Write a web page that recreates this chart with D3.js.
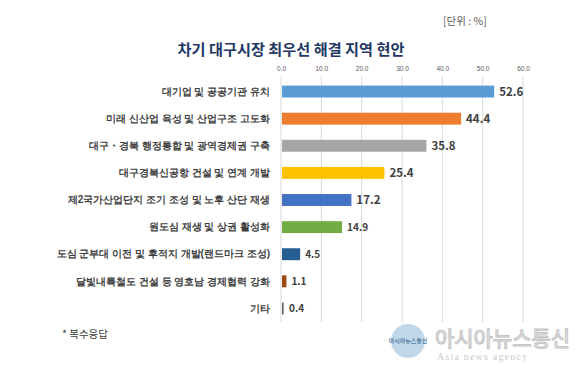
<!DOCTYPE html>
<html>
<head>
<meta charset="utf-8">
<script src="https://cdn.jsdelivr.net/npm/d3@7"></script>
<style>
  body { margin: 0; background: #fff; }
  svg { display: block; font-family: "Noto Sans CJK KR", "Noto Sans", sans-serif; }
</style>
</head>
<body>
<div id="chart"></div>
<script>
// 데이터
const categories = [
  '대기업 및 공공기관 유치',
  '미래 신산업 육성 및 산업구조 고도화',
  '대구・경북 행정통합 및 광역경제권 구축',
  '대구경북신공항 건설 및 연계 개발',
  '제2국가산업단지 조기 조성 및 노후 산단 재생',
  '원도심 재생 및 상권 활성화',
  '도심 군부대 이전 및 후적지 개발(랜드마크 조성)',
  '달빛내륙철도 건설 등 영호남 경제협력 강화',
  '기타'
];
const values = [52.6, 44.4, 35.8, 25.4, 17.2, 14.9, 4.5, 1.1, 0.4];
const barColors = ['#5b9bd5', '#ed7d31', '#a5a5a5', '#ffc000', '#4472c4', '#70ad47', '#255e91', '#9e480e', '#636363'];
const xTicks = [0, 10, 20, 30, 40, 50, 60];

const W = 580, H = 366;
const margin = { LEFT: 281, RIGHT: 57, TOP: 78, BOTTOM: 44 };
const WIDTH = W - margin.LEFT - margin.RIGHT;
const HEIGHT = H - margin.TOP - margin.BOTTOM;

const svg = d3.select('#chart').append('svg')
  .attr('width', W)
  .attr('height', H);

// 제목
svg.append('text')
  .attr('x', 291).attr('y', 55)
  .attr('text-anchor', 'middle')
  .attr('font-size', '15.2px')
  .attr('font-weight', 'bold')
  .attr('fill', '#1f3864')
  .text('차기 대구시장 최우선 해결 지역 현안');

svg.append('text')
  .attr('x', 443).attr('y', 25)
  .attr('font-size', '10.5px')
  .attr('fill', '#595959')
  .text('[단위 : %]');

const g = svg.append('g')
  .attr('transform', `translate(${margin.LEFT}, ${margin.TOP})`);

const x = d3.scaleLinear().domain([0, 60]).range([0, WIDTH]);
const y = d3.scaleBand().domain(categories).range([0, HEIGHT]).paddingInner(0.56).paddingOuter(0.28);

// 그리드
g.selectAll('.grid').data(xTicks).join('line')
  .attr('class', 'grid')
  .attr('x1', d => x(d)).attr('x2', d => x(d))
  .attr('y1', -2).attr('y2', HEIGHT)
  .attr('stroke', '#d9d9d9')
  .attr('stroke-width', 1);

// x축 (위)
const xAxis = g.append('g')
  .call(d3.axisTop(x).tickValues(xTicks).tickFormat(d3.format('.1f')).tickSize(0).tickPadding(7));
xAxis.select('.domain').remove();
xAxis.selectAll('text')
  .attr('font-size', '6.5px')
  .attr('fill', '#595959');

// y축 라벨
const yAxis = g.append('g')
  .call(d3.axisLeft(y).tickSize(0).tickPadding(11));
yAxis.select('.domain').remove();
yAxis.selectAll('text')
  .attr('font-size', '10px')
  .attr('font-weight', 'bold')
  .attr('fill', '#404040');

// 막대
g.selectAll('.bar').data(values).join('rect')
  .attr('class', 'bar')
  .attr('x', x(0) + 1)
  .attr('y', (d, i) => y(categories[i]))
  .attr('width', d => Math.max(x(d) - x(0), 1.5))
  .attr('height', y.bandwidth())
  .attr('fill', (d, i) => barColors[i]);

// 값 라벨
g.selectAll('.val').data(values).join('text')
  .attr('class', 'val')
  .attr('x', d => Math.max(x(d), x(0) + 2) + 6)
  .attr('y', (d, i) => y(categories[i]) + y.bandwidth() / 2)
  .attr('dy', '0.35em')
  .attr('font-size', (d, i) => i < 5 ? '11.5px' : '10px')
  .attr('font-weight', 'bold')
  .attr('fill', '#404040')
  .text(d => d.toFixed(1));

// 주석
svg.append('text')
  .attr('x', 62).attr('y', 338)
  .attr('font-size', '10.5px')
  .attr('fill', '#404040')
  .text('*  복수응답');

// 워터마크
const wm = svg.append('g').attr('opacity', 0.8);
wm.append('circle')
  .attr('cx', 408).attr('cy', 341).attr('r', 17)
  .attr('fill', '#b3cfe5');
wm.append('text')
  .attr('x', 408).attr('y', 343)
  .attr('text-anchor', 'middle')
  .attr('font-size', '6px')
  .attr('font-weight', 'bold')
  .attr('fill', '#2a5d8f')
  .text('아시아뉴스통신');
wm.append('text')
  .attr('x', 435).attr('y', 346)
  .attr('font-size', '21px')
  .attr('textLength', 135)
  .attr('lengthAdjust', 'spacingAndGlyphs')
  .attr('fill', '#ffffff')
  .attr('stroke', '#b8b8b8')
  .attr('stroke-width', 1.2)
  .text('아시아뉴스통신');
wm.append('text')
  .attr('x', 437).attr('y', 360)
  .attr('font-size', '10px')
  .attr('textLength', 90)
  .attr('font-family', 'Liberation Serif, serif')
  .attr('fill', '#c0c0c0')
  .text('Asia news agency');
</script>
</body>
</html>
